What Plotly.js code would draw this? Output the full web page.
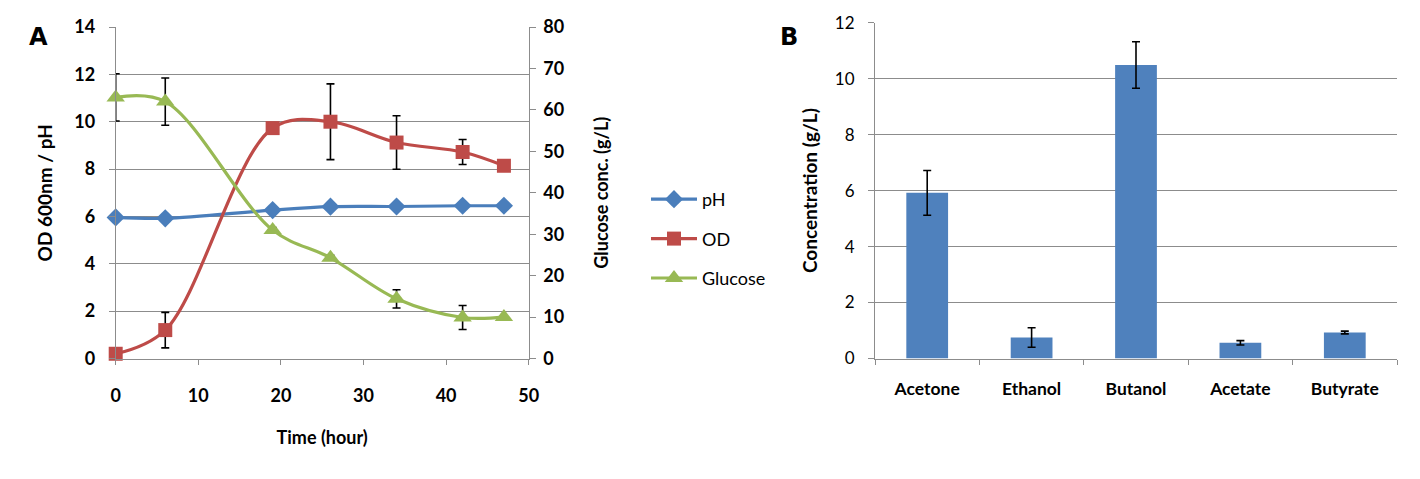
<!DOCTYPE html>
<html>
<head>
<meta charset="utf-8">
<script src="https://cdn.plot.ly/plotly-3.0.1.min.js"></script>
<style>html,body{margin:0;padding:0;background:#fff;}#chart{width:1420px;height:479px;}</style>
</head>
<body>
<div id="chart"></div>
<script>
// Panel A data
const timeHours = [0, 6, 19, 26, 34, 42, 47];
const pHValues = [5.96, 5.92, 6.27, 6.41, 6.42, 6.45, 6.45];
const odValues = [0.2, 1.2, 9.73, 10.0, 9.12, 8.72, 8.14];
const odErrors = [0, 0.75, 0.2, 1.6, 1.13, 0.53, 0];
const glucoseValues = [63.0, 62.0, 31.0, 24.3, 14.4, 9.9, 10.0];
const glucoseErrors = [5.7, 5.7, 0.6, 0.6, 2.2, 2.9, 0];

// Panel B data
const products = ["Acetone", "Ethanol", "Butanol", "Acetate", "Butyrate"];
const concentrations = [5.92, 0.75, 10.49, 0.56, 0.93];
const concErrors = [0.8, 0.35, 0.83, 0.08, 0.05];

const W = 1420, H = 479;
const gridC = "#8c8c8c";
const fontB = "Lato";

const errStyle = (arr) => ({type: "data", array: arr, visible: true, color: "#000", thickness: 1.6, width: 4});

const traces = [
  {x: timeHours, y: pHValues, name: "pH", type: "scatter", mode: "lines+markers", cliponaxis: false,
   line: {color: "#4a7ebb", width: 3.2, shape: "spline"},
   marker: {symbol: "diamond", size: 14, color: "#4a7ebb"},
   xaxis: "x", yaxis: "y", legendgroup: "a"},
  {x: timeHours, y: odValues, name: "OD", type: "scatter", mode: "lines+markers", cliponaxis: false,
   line: {color: "#be4b48", width: 3.2, shape: "spline"},
   marker: {symbol: "square", size: 14, color: "#be4b48"},
   error_y: errStyle(odErrors),
   xaxis: "x", yaxis: "y", legendgroup: "b"},
  {x: timeHours, y: glucoseValues, name: "Glucose", type: "scatter", mode: "lines+markers", cliponaxis: false,
   line: {color: "#98b954", width: 3.2, shape: "spline"},
   marker: {symbol: "triangle-up", size: 16, color: "#98b954"},
   error_y: errStyle(glucoseErrors),
   xaxis: "x", yaxis: "y2", legendgroup: "c"},
  {x: products, y: concentrations, type: "bar", showlegend: false,
   marker: {color: "#4f81bd"},
   error_y: errStyle(concErrors),
   xaxis: "x3", yaxis: "y3"}
];

const axLine = {showline: true, linecolor: gridC, linewidth: 1, ticks: "outside", tickcolor: gridC, ticklen: 6, zeroline: false};

const layout = {
  width: W, height: H,
  margin: {l: 0, r: 0, t: 0, b: 0},
  paper_bgcolor: "#fff", plot_bgcolor: "rgba(0,0,0,0)",
  font: {family: fontB, color: "#000"},
  showlegend: true,
  legend: {x: 646 / W, y: 1 - 181 / H, xanchor: "left", yanchor: "top",
           font: {family: fontB, size: 18, color: "#000"}, tracegroupgap: 13,
           itemwidth: 46, bgcolor: "rgba(0,0,0,0)"},
  xaxis: Object.assign({}, axLine, {
    domain: [115.7 / W, 528.7 / W], range: [0, 50], dtick: 10, showgrid: false,
    anchor: "y", ticklen: 5, ticklabelstandoff: 16,
    tickfont: {family: fontB, size: 18, weight: "bold"},
    title: {text: "Time (hour)", font: {family: fontB, size: 18, weight: "bold"}, standoff: 26}
  }),
  yaxis: Object.assign({}, axLine, {
    domain: [(H - 358.5) / H, (H - 27) / H], range: [0, 14], dtick: 2,
    showgrid: true, gridcolor: gridC, gridwidth: 1, ticklabelstandoff: 10,
    tickfont: {family: fontB, size: 18, weight: "bold"},
    title: {text: "OD 600nm / pH", font: {family: fontB, size: 19, weight: "bold"}, standoff: 16}
  }),
  yaxis2: Object.assign({}, axLine, {
    overlaying: "y", side: "right", anchor: "x", range: [0, 80], dtick: 10,
    showgrid: false, ticklabelstandoff: 4,
    tickfont: {family: fontB, size: 18, weight: "bold"},
    title: {text: "Glucose conc. (g/L)", font: {family: fontB, size: 18, weight: "bold"}, standoff: 32}
  }),
  xaxis3: Object.assign({}, axLine, {
    domain: [875 / W, 1397 / W], type: "category", tickson: "boundaries",
    anchor: "y3", showgrid: false, ticklen: 5, ticklabelstandoff: 14,
    tickfont: {family: fontB, size: 17.5, weight: "bold"}
  }),
  yaxis3: Object.assign({}, axLine, {
    domain: [(H - 358.5) / H, (H - 22.7) / H], range: [0, 12], dtick: 2, anchor: "x3",
    showgrid: true, gridcolor: gridC, gridwidth: 1, ticklabelstandoff: 10,
    tickfont: {family: fontB, size: 17, weight: "normal"},
    title: {text: "Concentration (g/L)", font: {family: fontB, size: 19, weight: "bold"}, standoff: 12}
  }),
  bargap: 0.6,
  annotations: [
    {text: "A", xref: "paper", yref: "paper", x: 38 / W, y: 1 - 37 / H, showarrow: false,
     font: {family: "DejaVu Sans", size: 24, weight: "bold"}, xanchor: "center", yanchor: "middle"},
    {text: "B", xref: "paper", yref: "paper", x: 789 / W, y: 1 - 37 / H, showarrow: false,
     font: {family: "DejaVu Sans", size: 24, weight: "bold"}, xanchor: "center", yanchor: "middle"}
  ]
};

Plotly.newPlot("chart", traces, layout, {displayModeBar: false, staticPlot: true});
</script>
</body>
</html>
